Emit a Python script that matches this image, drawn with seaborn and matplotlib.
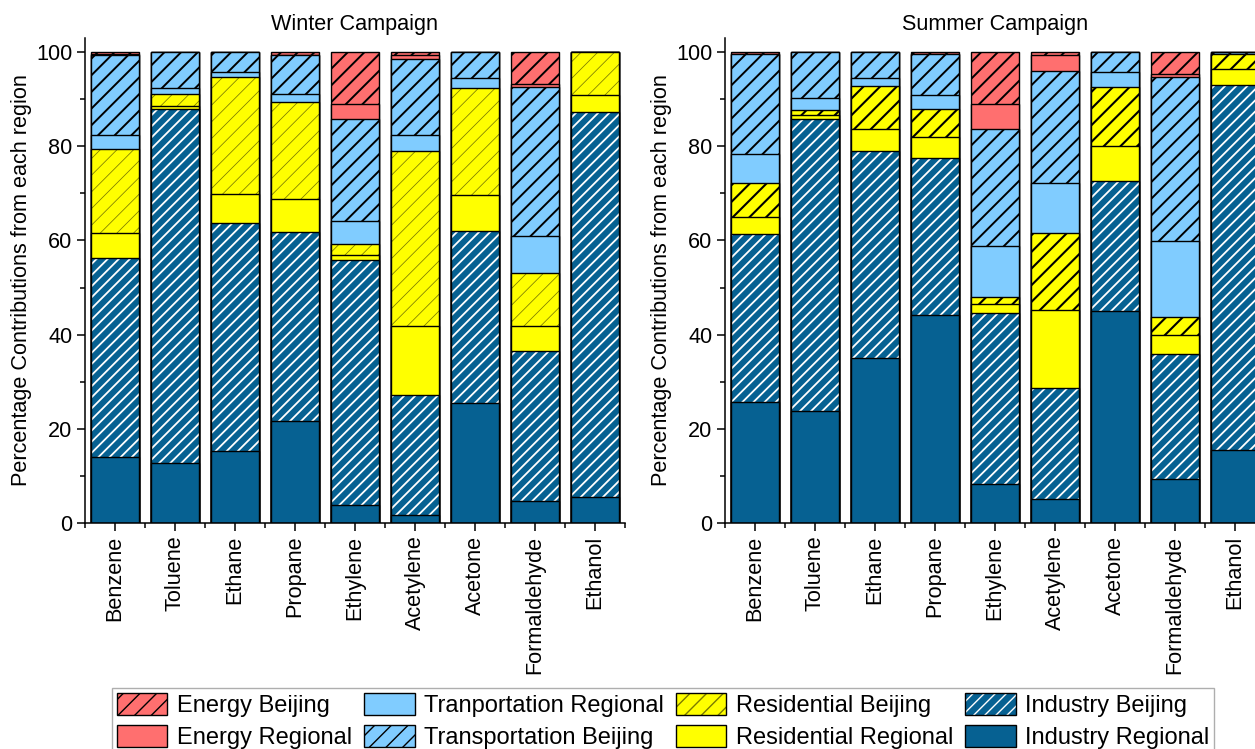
import numpy as np
import pandas as pd
import matplotlib
matplotlib.use("Agg")
import matplotlib.pyplot as plt
import seaborn as sns
from matplotlib.colors import to_rgba
from matplotlib.patches import Patch
from matplotlib.ticker import MultipleLocator

compounds = ["Benzene", "Toluene", "Ethane", "Propane", "Ethylene",
             "Acetylene", "Acetone", "Formaldehyde", "Ethanol"]

# Winter campaign contributions (%), bottom of the stack first
w_industry_regional = [14.0, 12.7, 15.4, 21.6, 3.8, 1.6, 25.4, 4.7, 5.5]
w_industry_beijing = [42.2, 75.3, 48.3, 40.3, 52.0, 25.6, 36.7, 31.9, 81.7]
w_residential_regional = [5.4, 0.6, 6.1, 7.0, 1.2, 14.6, 7.5, 5.3, 3.7]
w_residential_beijing = [17.8, 2.4, 25.0, 20.4, 2.2, 37.2, 22.7, 11.1, 9.1]
w_transport_regional = [3.0, 1.3, 0.9, 1.7, 4.9, 3.4, 2.1, 7.9, 0.0]
w_transport_beijing = [17.0, 7.7, 4.3, 8.4, 21.7, 16.2, 5.6, 31.7, 0.0]
w_energy_regional = [0.1, 0.0, 0.0, 0.0, 3.1, 0.7, 0.0, 0.7, 0.0]
w_energy_beijing = [0.5, 0.0, 0.0, 0.6, 11.1, 0.7, 0.0, 6.7, 0.0]

# Summer campaign contributions (%)
s_industry_regional = [25.6, 23.7, 35.0, 44.2, 8.3, 5.0, 45.0, 9.3, 15.6]
s_industry_beijing = [35.7, 62.1, 44.0, 33.4, 36.4, 23.6, 27.6, 26.6, 77.4]
s_residential_regional = [3.7, 0.8, 4.6, 4.4, 1.8, 16.6, 7.4, 4.0, 3.4]
s_residential_beijing = [7.1, 1.0, 9.2, 5.9, 1.6, 16.3, 12.6, 3.8, 3.3]
s_transport_regional = [6.2, 2.6, 1.8, 3.0, 10.8, 10.6, 3.1, 16.1, 0.0]
s_transport_beijing = [21.4, 9.8, 5.4, 8.6, 24.7, 23.9, 4.3, 35.0, 0.3]
s_energy_regional = [0.0, 0.0, 0.0, 0.0, 5.3, 3.4, 0.0, 0.5, 0.0]
s_energy_beijing = [0.3, 0.0, 0.0, 0.5, 11.1, 0.6, 0.0, 4.7, 0.0]

legend_labels = ["Energy Beijing", "Energy Regional", "Tranportation Regional",
                 "Transportation Beijing", "Residential Beijing",
                 "Residential Regional", "Industry Beijing", "Industry Regional"]

RED = "#FF6F6F"
LIGHTBLUE = "#80CCFF"
YELLOW = "#FFFF00"
DARKBLUE = "#066192"

# style per source: face, hatch, hatch colour, hatch linewidth
STYLE = {
    "Energy Beijing": (RED, "//", "black", 1.4),
    "Energy Regional": (RED, "", None, None),
    "Tranportation Regional": (LIGHTBLUE, "", None, None),
    "Transportation Beijing": (LIGHTBLUE, "//", "black", 1.4),
    "Residential Beijing": (YELLOW, "//", "#7a7a00", 0.55),
    "Residential Regional": (YELLOW, "", None, None),
    "Industry Beijing": (DARKBLUE, "///", "white", 1.3),
    "Industry Regional": (DARKBLUE, "", None, None),
}
SUMMER_RB = (YELLOW, "//", "black", 1.5)

FS = 15.6

sns.set_style("ticks")
plt.rcParams["font.family"] = ["Liberation Sans", "DejaVu Sans"]
plt.rcParams.update({
    "text.color": "black",
    "axes.labelcolor": "black",
    "xtick.color": "black",
    "ytick.color": "black",
    "axes.edgecolor": "black",
    "hatch.linewidth": 1.0,
})


def apply_hatch(patch, hatch, hcolor, hlw):
    if not hatch:
        return
    patch.set_hatch(hatch)
    if hasattr(patch, "set_hatchcolor"):
        patch.set_hatchcolor(hcolor)
    else:
        patch._hatch_color = to_rgba(hcolor)
    if hasattr(patch, "set_hatch_linewidth"):
        patch.set_hatch_linewidth(hlw)


def draw_panel(ax, layers, title, rb_style):
    # layers: list of (label, values), ordered bottom -> top
    values = np.array([v for _, v in layers])
    tops = np.cumsum(values, axis=0)
    # draw the tallest cumulative bar first and cover it with the lower ones
    for i in reversed(range(len(layers))):
        label = layers[i][0]
        face, hatch, hcol, hlw = rb_style if label == "Residential Beijing" else STYLE[label]
        df = pd.DataFrame({"compound": compounds, "value": tops[i]})
        with plt.rc_context({"hatch.linewidth": hlw if hlw else 1.0}):
            sns.barplot(data=df, x="compound", y="value", order=compounds,
                        color=face, saturation=1, width=0.8, errorbar=None,
                        edgecolor="black", linewidth=1.0, ax=ax)
            for p in ax.containers[-1]:
                apply_hatch(p, hatch, hcol, hlw)

    ax.set_xlim(-0.5, 8.5)
    ax.set_ylim(0, 103)
    ax.set_xticks(range(len(compounds)))
    ax.set_xticklabels(compounds, rotation=90, fontsize=FS)
    ax.xaxis.set_minor_locator(MultipleLocator(1, offset=0.5))
    ax.yaxis.set_major_locator(MultipleLocator(20))
    ax.yaxis.set_minor_locator(MultipleLocator(10))
    ax.tick_params(axis="both", which="major", length=6, width=1.1,
                   labelsize=FS, direction="out", pad=3, color="black")
    ax.tick_params(axis="both", which="minor", length=3.5, width=1.1,
                   direction="out", color="black")
    ax.set_xlabel("")
    ax.set_ylabel("Percentage Contributions from each region", fontsize=FS, labelpad=3)
    ax.set_title(title, fontsize=FS, pad=6)
    sns.despine(ax=ax)
    for s in ("left", "bottom"):
        ax.spines[s].set_linewidth(1.1)
        ax.spines[s].set_color("black")


winter_layers = [
    ("Industry Regional", w_industry_regional),
    ("Industry Beijing", w_industry_beijing),
    ("Residential Regional", w_residential_regional),
    ("Residential Beijing", w_residential_beijing),
    ("Tranportation Regional", w_transport_regional),
    ("Transportation Beijing", w_transport_beijing),
    ("Energy Regional", w_energy_regional),
    ("Energy Beijing", w_energy_beijing),
]
summer_layers = [
    ("Industry Regional", s_industry_regional),
    ("Industry Beijing", s_industry_beijing),
    ("Residential Regional", s_residential_regional),
    ("Residential Beijing", s_residential_beijing),
    ("Tranportation Regional", s_transport_regional),
    ("Transportation Beijing", s_transport_beijing),
    ("Energy Regional", s_energy_regional),
    ("Energy Beijing", s_energy_beijing),
]

fig = plt.figure(figsize=(12.55, 7.49), dpi=100)
ax_w = fig.add_axes([0.0677, 0.3017, 0.4303, 0.6476])
ax_s = fig.add_axes([0.5777, 0.3017, 0.4303, 0.6476])

draw_panel(ax_w, winter_layers, "Winter Campaign", STYLE["Residential Beijing"])
draw_panel(ax_s, summer_layers, "Summer Campaign", SUMMER_RB)

handles = []
for lab in legend_labels:
    face, hatch, hcol, hlw = STYLE[lab]
    with plt.rc_context({"hatch.linewidth": hlw if hlw else 1.0}):
        h = Patch(facecolor=face, edgecolor="black", linewidth=1.0, label=lab)
        apply_hatch(h, hatch, hcol, hlw)
    handles.append(h)

leg = fig.legend(handles=handles, labels=legend_labels, ncol=4,
                 loc="upper left", bbox_to_anchor=(0.0892, 0.0814),
                 bbox_transform=fig.transFigure, fontsize=17.0,
                 frameon=True, fancybox=False, borderaxespad=0,
                 handlelength=2.15, handleheight=1.1, handletextpad=0.4,
                 columnspacing=0.5, labelspacing=0.32, borderpad=0.2)
leg.get_frame().set_edgecolor("#9a9a9a")
leg.get_frame().set_linewidth(1.0)

fig.savefig("out.png", dpi=100)
